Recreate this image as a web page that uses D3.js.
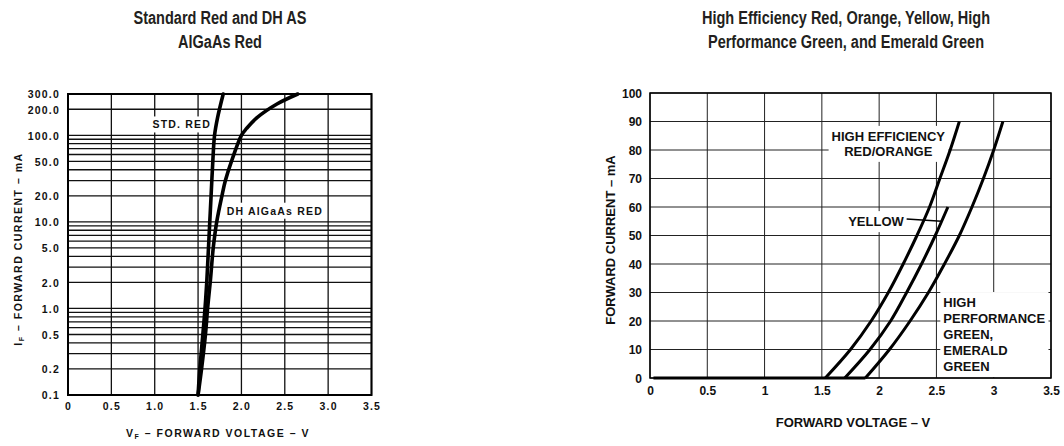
<!DOCTYPE html>
<html lang="en">
<head>
<meta charset="UTF-8">
<title>LED forward current vs forward voltage</title>
<style>
	body { margin: 0; background: #fff; }
	svg { display: block; }
	.title { font: bold 17.5px "Liberation Sans", Arial, sans-serif; fill: #231f20; text-anchor: middle; }
	.scan text { font: bold 10.5px "Liberation Sans", Arial, sans-serif; fill: #111; letter-spacing: 1.2px; }
	.scan .ttl { letter-spacing: 1.5px; }
	.clean text { font: bold 12px "Liberation Sans", Arial, sans-serif; fill: #111; }
	.clean .lbl { font-size: 13px; }
</style>
<script src="https://cdn.jsdelivr.net/npm/d3@7/dist/d3.min.js"></script>
</head>
<body>
<script>
// left chart: log current axis
var voltTicks = [0, 0.5, 1.0, 1.5, 2.0, 2.5, 3.0, 3.5];
var logCurrentTicks = [0.1, 0.2, 0.5, 1, 2, 5, 10, 20, 50, 100, 200, 300];

var stdRedI = [0.1, 0.2, 0.5, 1, 2, 5, 10, 20, 50, 100, 160, 300];
var stdRedV = [1.50, 1.52, 1.555, 1.58, 1.60, 1.62, 1.635, 1.65, 1.67, 1.69, 1.725, 1.79];
var dhRedI = [0.1, 0.2, 0.5, 1, 2, 5, 10, 20, 30, 50, 100, 120, 160, 230, 300];
var dhRedV = [1.50, 1.54, 1.585, 1.61, 1.64, 1.675, 1.715, 1.775, 1.815, 1.885, 2.0, 2.06, 2.18, 2.41, 2.65];

// right chart: linear current axis
var linCurrentTicks = [0, 10, 20, 30, 40, 50, 60, 70, 80, 90, 100];
var herI = [0, 10, 20, 30, 40, 50, 60, 70, 80, 90];
var herV = [1.53, 1.75, 1.93, 2.08, 2.21, 2.33, 2.44, 2.53, 2.62, 2.70];
var yellowI = [0, 10, 20, 30, 40, 50, 60];
var yellowV = [1.70, 1.92, 2.10, 2.24, 2.37, 2.49, 2.60];
var greenI = [0, 10, 20, 30, 40, 50, 60, 70, 80, 90];
var greenV = [1.88, 2.09, 2.27, 2.43, 2.57, 2.70, 2.81, 2.91, 3.00, 3.08];
var offV = [0.03, 1.88];
var offI = [0, 0];
var yellowLeaderV = [2.24, 2.545];
var yellowLeaderI = [55.8, 55];

function pts(vs, is) {
	return vs.map(function (v, k) { return [v, is[k]]; });
}

// text lines with a white box behind them
function label(g, lines, x, y, anchor, lh, cls, pad) {
	var t = g.append("text")
		.attr("class", cls || null)
		.attr("text-anchor", anchor);
	lines.forEach(function (s, k) {
		t.append("tspan").attr("x", x).attr("y", y + k * lh).text(s);
	});
	var b = t.node().getBBox();
	g.insert("rect", function () { return t.node(); })
		.attr("x", b.x - pad).attr("y", b.y - pad)
		.attr("width", b.width + 2 * pad).attr("height", b.height + 2 * pad)
		.attr("fill", "#fff");
	return t;
}

// condensed-looking title lines
function title(lines, x) {
	lines.forEach(function (s, k) {
		var t = svg.append("text").attr("class", "title")
			.attr("x", x).attr("y", 24 + k * 23.5).text(s);
		var w = t.node().getComputedTextLength();
		t.attr("textLength", w * 0.83).attr("lengthAdjust", "spacingAndGlyphs");
	});
}

var svg = d3.select("body").append("svg")
	.attr("width", 1064)
	.attr("height", 446);

// ---------- left ----------
var xL = d3.scaleLinear().domain([0, 3.5]).range([68, 371.5]);
var yL = d3.scaleLog().domain([0.1, 300]).range([395, 94]);
var gL = svg.append("g").attr("class", "scan");

title(["Standard Red and DH AS", "AlGaAs Red"], 220);

gL.append("g").selectAll("line").data(yL.ticks()).enter().append("line")
	.attr("x1", xL(0)).attr("x2", xL(3.5))
	.attr("y1", function (d) { return yL(d); })
	.attr("y2", function (d) { return yL(d); })
	.attr("stroke", "#111").attr("stroke-width", 1.3);
gL.append("g").selectAll("line").data(voltTicks).enter().append("line")
	.attr("x1", function (d) { return xL(d); })
	.attr("x2", function (d) { return xL(d); })
	.attr("y1", yL(0.1)).attr("y2", yL(300))
	.attr("stroke", "#111").attr("stroke-width", 1.3);

var labL = gL.append("g");
label(labL, ["STD. RED"], xL(1.65), yL(120), "end", 12, null, 2);
label(labL, ["DH AlGaAs RED"], xL(1.83), yL(12.1), "start", 12, null, 2);

var lineL = d3.line()
	.x(function (d) { return xL(d[0]); })
	.y(function (d) { return yL(d[1]); })
	.curve(d3.curveCatmullRom.alpha(0.5));
[pts(stdRedV, stdRedI), pts(dhRedV, dhRedI)].forEach(function (s) {
	gL.append("path").attr("d", lineL(s))
		.attr("fill", "none").attr("stroke", "#000")
		.attr("stroke-width", 3.6).attr("stroke-linecap", "round");
});

gL.append("rect")
	.attr("x", xL(0)).attr("y", yL(300))
	.attr("width", xL(3.5) - xL(0)).attr("height", yL(0.1) - yL(300))
	.attr("fill", "none").attr("stroke", "#000").attr("stroke-width", 2);

gL.append("g")
	.attr("transform", "translate(" + (xL(0) - 5) + ",0)")
	.call(d3.axisLeft(yL).tickValues(logCurrentTicks).tickFormat(d3.format(".1f")).tickSize(0))
	.call(function (g) { g.select(".domain").remove(); })
	.selectAll("text").attr("fill", "#111").attr("dy", "0.36em");
gL.append("g")
	.attr("transform", "translate(0," + (yL(0.1) + 5) + ")")
	.call(d3.axisBottom(xL).tickValues(voltTicks).tickSize(0)
		.tickFormat(function (d) { return d === 0 ? "0" : d3.format(".1f")(d); }))
	.call(function (g) { g.select(".domain").remove(); })
	.selectAll("text").attr("fill", "#111");

var xtL = gL.append("text").attr("class", "ttl").attr("x", 218).attr("y", 437).attr("text-anchor", "middle");
xtL.append("tspan").text("V");
xtL.append("tspan").attr("dy", 2).attr("font-size", "7px").text("F");
xtL.append("tspan").attr("dy", -2).text("  –  FORWARD VOLTAGE  –  V");

var ytL = gL.append("text").attr("class", "ttl").attr("text-anchor", "middle")
	.attr("transform", "translate(22,249) rotate(-90)");
ytL.append("tspan").text("I");
ytL.append("tspan").attr("dy", 2).attr("font-size", "7px").text("F");
ytL.append("tspan").attr("dy", -2).text("  –  FORWARD CURRENT  –  mA");

// ---------- right ----------
var xR = d3.scaleLinear().domain([0, 3.5]).range([650, 1051]);
var yR = d3.scaleLinear().domain([0, 100]).range([378, 93]);
var gR = svg.append("g").attr("class", "clean");

title(["High Efficiency Red, Orange, Yellow, High", "Performance Green, and Emerald Green"], 846);

gR.append("g").selectAll("line").data(linCurrentTicks).enter().append("line")
	.attr("x1", xR(0)).attr("x2", xR(3.5))
	.attr("y1", function (d) { return yR(d); })
	.attr("y2", function (d) { return yR(d); })
	.attr("stroke", "#222").attr("stroke-width", 1);
gR.append("g").selectAll("line").data(voltTicks).enter().append("line")
	.attr("x1", function (d) { return xR(d); })
	.attr("x2", function (d) { return xR(d); })
	.attr("y1", yR(0)).attr("y2", yR(100))
	.attr("stroke", "#222").attr("stroke-width", 1);

var labR = gR.append("g");
label(labR, ["HIGH EFFICIENCY", "RED/ORANGE"], xR(2.08), yR(83.2), "middle", 15, "lbl", 3);
label(labR, ["YELLOW"], xR(1.73), yR(53.3), "start", 15, "lbl", 3);
label(labR, ["HIGH", "PERFORMANCE", "GREEN,", "EMERALD", "GREEN"], xR(2.56), yR(24.9), "start", 16, "lbl", 3);

var flatR = d3.line()
	.x(function (d) { return xR(d[0]); })
	.y(function (d) { return yR(d[1]); });
var lineR = d3.line()
	.x(function (d) { return xR(d[0]); })
	.y(function (d) { return yR(d[1]); })
	.curve(d3.curveCatmullRom.alpha(0.5));
gR.append("path").attr("d", flatR(pts(offV, offI)))
	.attr("fill", "none").attr("stroke", "#000").attr("stroke-width", 3);
gR.append("path").attr("d", flatR(pts(yellowLeaderV, yellowLeaderI)))
	.attr("fill", "none").attr("stroke", "#000").attr("stroke-width", 1.5);
[pts(herV, herI), pts(yellowV, yellowI), pts(greenV, greenI)].forEach(function (s) {
	gR.append("path").attr("d", lineR(s))
		.attr("fill", "none").attr("stroke", "#000").attr("stroke-width", 3);
});

gR.append("rect")
	.attr("x", xR(0)).attr("y", yR(100))
	.attr("width", xR(3.5) - xR(0)).attr("height", yR(0) - yR(100))
	.attr("fill", "none").attr("stroke", "#000").attr("stroke-width", 1.5);

gR.append("g")
	.attr("transform", "translate(" + (xR(0) - 5) + ",0)")
	.call(d3.axisLeft(yR).tickValues(linCurrentTicks).tickSize(0))
	.call(function (g) { g.select(".domain").remove(); })
	.selectAll("text").attr("fill", "#111").attr("dy", "0.36em");
gR.append("g")
	.attr("transform", "translate(0," + (yR(0) + 5) + ")")
	.call(d3.axisBottom(xR).tickValues(voltTicks).tickSize(0).tickFormat(d3.format("")))
	.call(function (g) { g.select(".domain").remove(); })
	.selectAll("text").attr("fill", "#111");

gR.append("text").attr("class", "lbl")
	.attr("x", 853).attr("y", 427).attr("text-anchor", "middle")
	.text("FORWARD VOLTAGE – V");
gR.append("text").attr("class", "lbl").attr("text-anchor", "middle")
	.attr("transform", "translate(615,240) rotate(-90)")
	.text("FORWARD CURRENT – mA");
</script>
</body>
</html>
